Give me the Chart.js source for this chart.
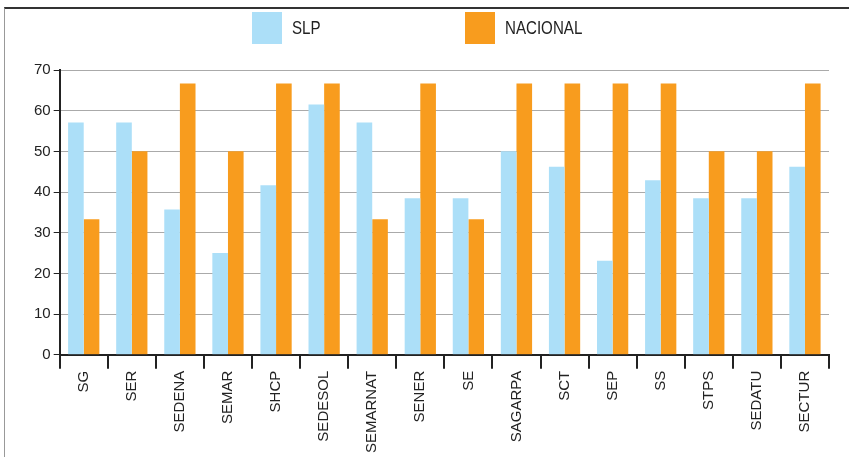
<!DOCTYPE html>
<html>
<head>
<meta charset="utf-8">
<script src="https://cdn.jsdelivr.net/npm/chart.js@4.4.0/dist/chart.umd.min.js"></script>
<style>
  html, body { margin: 0; padding: 0; background: #fff; }
  #wrap { position: relative; width: 849px; height: 457px; overflow: hidden; }
  #frame { position: absolute; left: 4px; top: 7px; right: 0; bottom: 0;
           border-top: 2px solid #333; border-left: 1px solid #999; }
  #chart { position: absolute; left: 0; top: 0; }
  .leg { position: absolute; top: 12px; height: 32px; display: flex; align-items: center;
         font-family: "Liberation Sans", sans-serif; font-size: 18px; color: #222; }
  .leg span.box { display: inline-block; width: 30px; height: 32px; margin-right: 10px; }
  .leg span.txt { display: inline-block; transform: scaleX(0.84); transform-origin: left center; }
</style>
</head>
<body>
<div id="wrap">
  <div id="frame"></div>
  <canvas id="chart" width="849" height="457"></canvas>
  <div id="legend"></div>
</div>
<script>
const labels = ['SG', 'SER', 'SEDENA', 'SEMAR', 'SHCP', 'SEDESOL', 'SEMARNAT', 'SENER',
  'SE', 'SAGARPA', 'SCT', 'SEP', 'SS', 'STPS', 'SEDATU', 'SECTUR']
const slp = [57.1, 57.1, 35.7, 25.0, 41.7, 61.5, 57.1, 38.5, 38.5, 50.0, 46.2, 23.1, 42.9, 38.5, 38.5, 46.2]
const nacional = [33.3, 50.0, 66.7, 50.0, 66.7, 66.7, 33.3, 66.7, 33.3, 66.7, 66.7, 66.7, 66.7, 50.0, 50.0, 66.7]
const yTicks = [0, 10, 20, 30, 40, 50, 60, 70]

const font = "'Liberation Sans', sans-serif"

const data = {
  labels: labels,
  datasets: [
    { label: 'SLP', data: slp, backgroundColor: '#acdff8' },
    { label: 'NACIONAL', data: nacional, backgroundColor: '#f89c1e' },
  ],
}

const config = {
  type: 'bar',
  data: data,
  options: {
    responsive: false,
    animation: false,
    layout: { padding: { top: 70, left: 31, right: 20, bottom: 2 } },
    datasets: { bar: { categoryPercentage: 0.65, barPercentage: 1 } },
    plugins: { legend: { display: false }, tooltip: { enabled: false } },
    scales: {
      x: {
        grid: { drawOnChartArea: false, drawTicks: true, tickLength: 14, color: '#222', lineWidth: 2 },
        border: { color: '#222', width: 2 },
        ticks: { color: '#222', font: { family: font, size: 15 }, minRotation: 90, maxRotation: 90, padding: 2, autoSkip: false },
      },
      y: {
        min: 0,
        max: 70,
        afterBuildTicks: (axis) => { axis.ticks = yTicks.map(v => ({ value: v })) },
        grid: { color: '#aaa', lineWidth: 1, tickColor: '#222', tickLength: 6 },
        border: { color: '#222', width: 2 },
        ticks: { color: '#222', font: { family: font, size: 15 }, padding: 3 },
      },
    },
  },
}

const chart = new Chart(document.getElementById('chart'), config)

// legend built from the datasets
const legend = document.getElementById('legend')
const legendX = [252, 465]
data.datasets.forEach((ds, i) => {
  const d = document.createElement('div')
  d.className = 'leg'
  d.style.left = legendX[i] + 'px'
  d.innerHTML = '<span class="box" style="background:' + ds.backgroundColor + '"></span><span class="txt">' + ds.label + '</span>'
  legend.appendChild(d)
})
</script>
</body>
</html>
